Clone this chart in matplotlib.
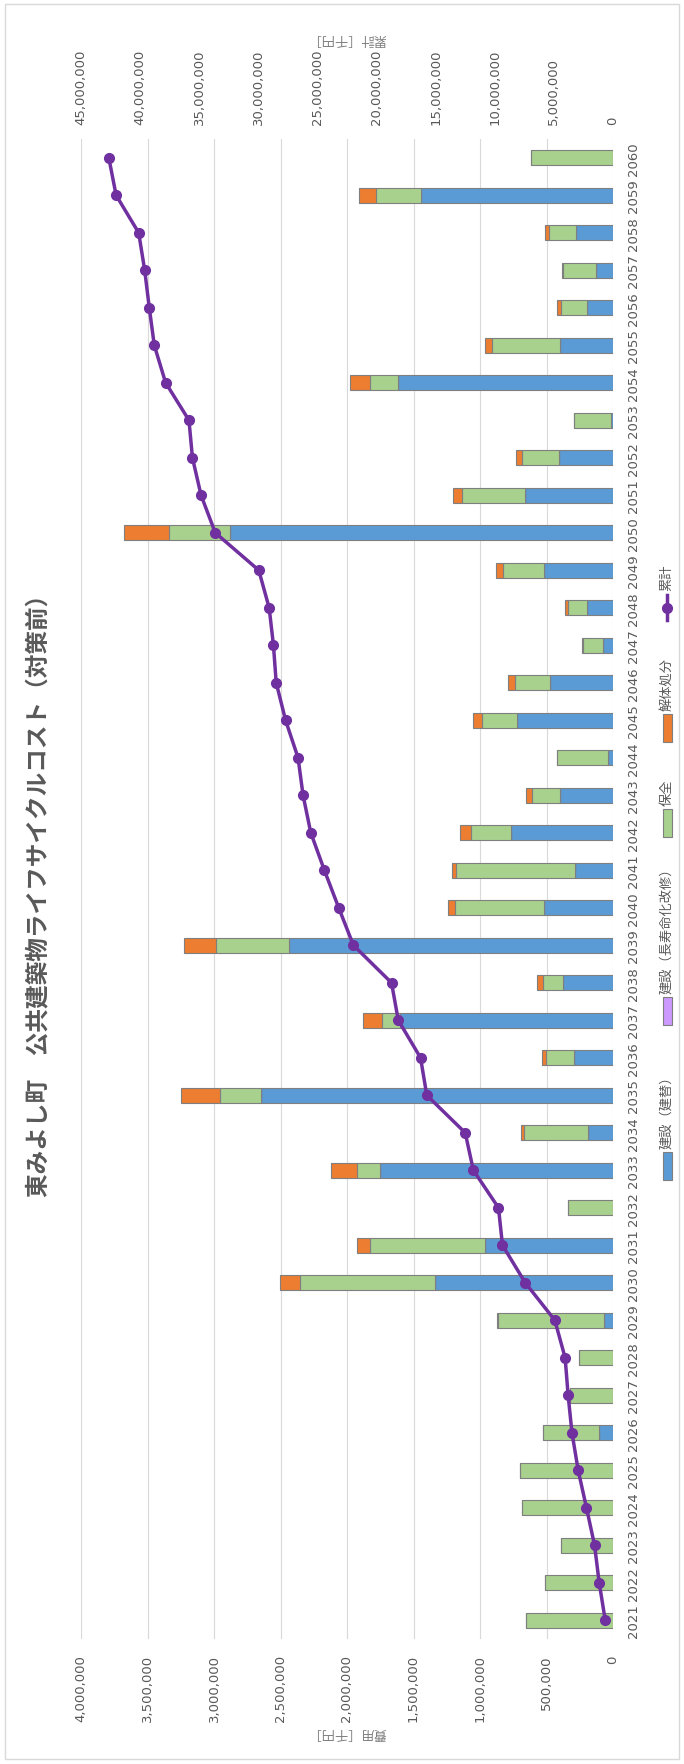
import matplotlib
matplotlib.use("Agg")
import matplotlib.pyplot as plt
from matplotlib.patches import Rectangle
from matplotlib.lines import Line2D
from matplotlib.ticker import FuncFormatter
import numpy as np

plt.rcParams['font.family'] = ['DejaVu Sans', 'Noto Sans CJK JP']

# 年度別の費用（千円）
years = list(range(2021, 2061))
rebuild = [0, 0, 0, 0, 0, 108000, 0, 0, 69000, 1335000,
           960000, 0, 1755000, 186000, 2646000, 291000, 1599000, 378000, 2439000, 522000,
           288000, 765000, 399000, 36000, 723000, 474000, 78000, 198000, 516000, 2880000,
           660000, 408000, 15000, 1614000, 402000, 198000, 126000, 279000, 1446000, 0]
renovate = [0] * 40
maintain = [657000, 510000, 393000, 684000, 702000, 417000, 324000, 255000, 795000, 1017000,
            867000, 339000, 171000, 480000, 312000, 213000, 135000, 147000, 543000, 666000,
            894000, 306000, 210000, 387000, 261000, 264000, 150000, 141000, 309000, 459000,
            474000, 276000, 279000, 216000, 507000, 195000, 249000, 201000, 333000, 618000]
demolish = [0, 0, 0, 0, 0, 0, 0, 0, 6000, 150000,
            99000, 0, 198000, 24000, 291000, 27000, 147000, 48000, 243000, 54000,
            30000, 78000, 45000, 0, 72000, 54000, 6000, 24000, 54000, 339000,
            69000, 45000, 0, 144000, 51000, 30000, 12000, 30000, 129000, 0]

labels = ['建設（建替）', '建設（長寿命化改修）', '保全', '解体処分', '累計']
colors = ['#5B9BD5', '#CC99FF', '#A9D18E', '#ED7D31']
line_color = '#7030A0'
text_color = '#595959'

W, H = 684, 1765
fig = plt.figure(figsize=(W / 100, H / 100), dpi=100)
fig.patches.append(Rectangle((5 / W, 5 / H), 674 / W, 1755 / H, transform=fig.transFigure,
                             fill=False, ec='#d9d9d9', lw=1))

ax = fig.add_axes([81 / W, 1 - 1640 / H, 532 / W, 1500 / H])

series = [rebuild, renovate, maintain, demolish]
left = np.zeros(len(years))
for vals, c in zip(series, colors):
    ax.barh(years, vals, left=left, height=0.4, color=c, edgecolor='#7f7f7f',
            linewidth=0.8, zorder=2)
    left += np.array(vals)

ax.set_xlim(4000000, 0)
ax.set_ylim(2020.5, 2060.5)
ax.set_xticks(np.arange(0, 4000001, 500000))
ax.xaxis.set_major_formatter(FuncFormatter(lambda v, p: f'{v:,.0f}'))
ax.xaxis.grid(True, color='#d9d9d9', lw=0.8, zorder=0)
ax.set_axisbelow(True)
ax.yaxis.tick_right()
ax.set_yticks(years)
ax.set_yticklabels([str(y) for y in years], rotation=90, va='center')
ax.tick_params(axis='x', length=0, pad=11, labelsize=9.5, labelcolor=text_color, labelrotation=90)
ax.tick_params(axis='y', length=0, pad=10, labelsize=9.5, labelcolor=text_color)
for s in ax.spines.values():
    s.set_visible(False)

# 累計（第2軸）
total = left
cumulative = np.cumsum(total)
ax2 = ax.twiny()
ax2.plot(cumulative, years, color=line_color, lw=2.5, marker='o', ms=7, zorder=3)
ax2.set_xlim(45000000, 0)
ax2.set_xticks(np.arange(0, 45000001, 5000000))
ax2.xaxis.set_major_formatter(FuncFormatter(lambda v, p: f'{v:,.0f}'))
ax2.tick_params(axis='x', length=0, pad=11, labelsize=9.5, labelcolor=text_color, labelrotation=90)
for s in ax2.spines.values():
    s.set_visible(False)

fig.text(347 / W, 1 - 38 / H, '累計［千円］', rotation=180, ha='center', va='center',
         fontsize=9.5, color='#7f7f7f')
fig.text(347 / W, 1 - 1733 / H, '費用［千円］', rotation=180, ha='center', va='center',
         fontsize=9.5, color='#7f7f7f')

fig.text(38 / W, 1 - 890 / H, '東みよし町　公共建築物ライフサイクルコスト（対策前）',
         rotation=90, ha='center', va='center', fontsize=17, fontweight='bold',
         color=text_color)

# 凡例（縦向き）
lx = 667
key_w, key_h = 9, 28
key_bottoms = [1181, 1026, 838, 743]
for c, yb, lab in zip(colors, key_bottoms, labels[:4]):
    fig.patches.append(Rectangle(((lx - key_w / 2) / W, 1 - yb / H), key_w / W, key_h / H,
                                 transform=fig.transFigure, fc=c, ec='#7f7f7f', lw=0.8))
    fig.text(lx / W, 1 - (yb - key_h - 4) / H, lab, rotation=90, ha='center', va='bottom',
             fontsize=9.5, color=text_color)
fig.lines.append(Line2D([lx / W, lx / W], [1 - 621 / H, 1 - 596 / H], transform=fig.transFigure,
                        color=line_color, lw=2.5))
fig.lines.append(Line2D([lx / W], [1 - 609 / H], transform=fig.transFigure,
                        color=line_color, marker='o', ms=7))
fig.text(lx / W, 1 - 591 / H, labels[4], rotation=90, ha='center', va='bottom',
         fontsize=9.5, color=text_color)

fig.savefig('out.png', dpi=100)
